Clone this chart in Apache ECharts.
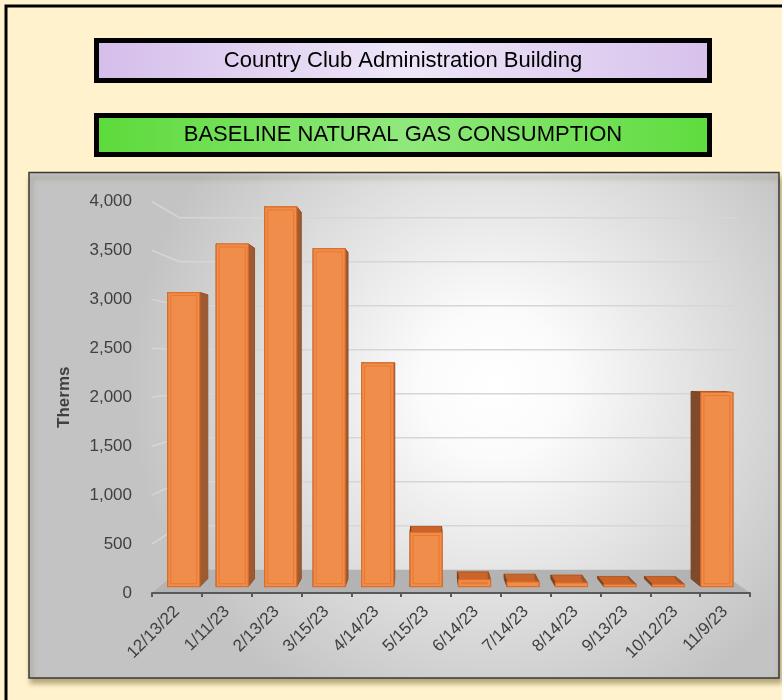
<!DOCTYPE html>
<html>
<head>
<meta charset="utf-8">
<script src="https://cdn.jsdelivr.net/npm/echarts@6/dist/echarts.min.js"></script>
<style>
html,body{margin:0;padding:0;background:#FFF2CC;}
#chart{width:782px;height:700px;}
</style>
</head>
<body>
<div id="chart"></div>
<script>
// ---- data ----
const categories = ['12/13/22','1/11/23','2/13/23','3/15/23','4/14/23','5/15/23','6/14/23','7/14/23','8/14/23','9/13/23','10/12/23','11/9/23'];
const therms = [3090, 3600, 3990, 3550, 2350, 570, 75, 50, 40, 25, 25, 2040];
const yMin = 0, yMax = 4000, yStep = 500;
const titleText = 'Country Club Administration Building';
const subtitleText = 'BASELINE NATURAL GAS CONSUMPTION';
const yAxisName = 'Therms';

// ---- perspective settings (style) ----
const VP_CAT = 5, VP_VAL = 2350;   // vanishing point in data space
const T_BACK = 0.101;              // back wall depth
const T_BAR0 = 0.0274;             // bar front face depth
const T_BAR1 = 0.062;              // bar back face depth

function proj(p, vp, t){ return [p[0] + (vp[0]-p[0])*t, p[1] + (vp[1]-p[1])*t]; }

const chart = echarts.init(document.getElementById('chart'), null, {renderer:'canvas'});
const FONT = '"Liberation Sans", Arial, sans-serif';

function renderWalls(params, api){
  const vp = api.coord([VP_CAT, VP_VAL]);
  const bw = api.size([1,0])[0];
  const p0 = api.coord([0, yMin]);
  const xL = p0[0] - bw/2;
  const xR = api.coord([categories.length-1, yMin])[0] + bw/2;
  const y0 = p0[1];
  const children = [];
  children.push({type:'polygon', shape:{points:[[xL,y0],[xR,y0],proj([xR,y0],vp,T_BACK),proj([xL,y0],vp,T_BACK)]},
    style:{fill:'#B3B3B3'}});
  for (let v = yMin + yStep; v <= yMax; v += yStep){
    const yv = api.coord([0, v])[1];
    const a = [xL, yv];
    const b = proj(a, vp, T_BACK);
    const c = proj([xR, yv], vp, T_BACK);
    children.push({type:'polyline', shape:{points:[a, b, [c[0]+20, b[1]]]},
      style:{stroke:'#D6D6D6', lineWidth:1.5, fill:null}});
  }
  return {type:'group', children};
}

function renderBar(params, api){
  const vp = api.coord([VP_CAT, VP_VAL]);
  const idx = api.value(0), val = api.value(1);
  const top = api.coord([idx, val]);
  const base = api.coord([idx, yMin]);
  const hw = api.size([1,0])[0]*0.33;
  const L = top[0]-hw, R = top[0]+hw, T = top[1], B = base[1];
  const FTL = proj([L,T],vp,T_BAR0), FTR = proj([R,T],vp,T_BAR0), FBR = proj([R,B],vp,T_BAR0), FBL = proj([L,B],vp,T_BAR0);
  const BTL = proj([L,T],vp,T_BAR1), BTR = proj([R,T],vp,T_BAR1), BBR = proj([R,B],vp,T_BAR1), BBL = proj([L,B],vp,T_BAR1);
  const ins = 3;
  const children = [
    {type:'polygon', shape:{points:[FTL,FTR,BTR,BTL]}, style:{fill:'#C9642A', stroke:'#B8581F', lineWidth:1}},
    {type:'polygon', shape:{points:[FTR,BTR,BBR,FBR]}, style:{fill:'#9E5A30', stroke:'#94522A', lineWidth:1}},
    {type:'polygon', shape:{points:[FTL,BTL,BBL,FBL]}, style:{fill:'#7E4A2A', stroke:'#744224', lineWidth:1}},
    {type:'polygon', shape:{points:[FTL,FTR,FBR,FBL]}, style:{fill:'#F18D4B', stroke:'#E06E28', lineWidth:1.2}}
  ];
  if (FBL[1]-FTL[1] > 2*ins+1){
    children.push({type:'polygon', shape:{points:[[FTL[0]+ins,FTL[1]+ins],[FTR[0]-ins,FTR[1]+ins],[FBR[0]-ins,FBR[1]-ins],[FBL[0]+ins,FBL[1]-ins]]},
      style:{fill:null, stroke:'rgba(228,116,50,0.85)', lineWidth:1}});
  }
  return {type:'group', children};
}

const option = {
  backgroundColor:'#FFF2CC',
  animation:false,
  graphic:[
    {type:'rect', z:0, shape:{x:6, y:6, width:800, height:720}, style:{fill:'#FFF2CC', stroke:'#000', lineWidth:3}},
    {type:'rect', z:0, shape:{x:96.5, y:40.5, width:613, height:40}, style:{
      fill:{type:'linear', x:0, y:0, x2:1, y2:0, colorStops:[{offset:0,color:'#D5BDEB'},{offset:0.5,color:'#EEE6F8'},{offset:1,color:'#D7C1EC'}]},
      stroke:'#000', lineWidth:5}},
    {type:'text', z:1, x:403, y:60.5, style:{text:titleText, font:'22px '+FONT, fill:'#000', align:'center', verticalAlign:'middle'}},
    {type:'rect', z:0, shape:{x:96.5, y:115.5, width:613, height:39}, style:{
      fill:{type:'linear', x:0, y:0, x2:1, y2:0, colorStops:[{offset:0,color:'#5CDA3A'},{offset:0.5,color:'#90E87C'},{offset:1,color:'#5EDC3E'}]},
      stroke:'#000', lineWidth:5}},
    {type:'text', z:1, x:403, y:135, style:{text:subtitleText, font:'22px '+FONT, fill:'#000', align:'center', verticalAlign:'middle'}},
    {type:'rect', z:0, shape:{x:29, y:172.5, width:750, height:505.5}, style:{
      fill:{type:'radial', x:0.62, y:0.42, r:0.72, colorStops:[{offset:0,color:'#FFFFFF'},{offset:0.2,color:'#FBFBFB'},{offset:1,color:'#C3C3C3'}]},
      stroke:'#3A3A3A', lineWidth:1.5, shadowBlur:5, shadowOffsetX:2, shadowOffsetY:5, shadowColor:'rgba(90,70,20,0.45)'}}
  ],
  grid:{left:152, right:32, top:201.5, bottom:107, containLabel:false},
  xAxis:{type:'category', data:categories, boundaryGap:true,
    axisLine:{show:true, lineStyle:{color:'#595959', width:2}},
    axisTick:{show:true, length:4, lineStyle:{color:'#595959', width:2}},
    axisLabel:{rotate:45, margin:16, fontSize:17, fontFamily:FONT, color:'#404040'},
    splitLine:{show:false}, z:3},
  yAxis:{type:'value', min:yMin, max:yMax, interval:yStep,
    name:yAxisName, nameLocation:'middle', nameRotate:90, nameGap:79,
    nameTextStyle:{fontSize:17, fontWeight:'bold', fontFamily:FONT, color:'#404040'},
    axisLine:{show:false}, axisTick:{show:false}, splitLine:{show:false},
    axisLabel:{margin:20, fontSize:17, fontFamily:FONT, color:'#404040',
      formatter:(v)=>v.toLocaleString('en-US')}},
  series:[
    {type:'custom', name:'walls', z:1, silent:true, data:[[0,0]], renderItem:renderWalls, clip:false},
    {type:'custom', name:'Therms', z:2, data:therms.map((v,i)=>[i,v]), renderItem:renderBar, clip:false}
  ]
};
chart.setOption(option);
</script>
</body>
</html>
